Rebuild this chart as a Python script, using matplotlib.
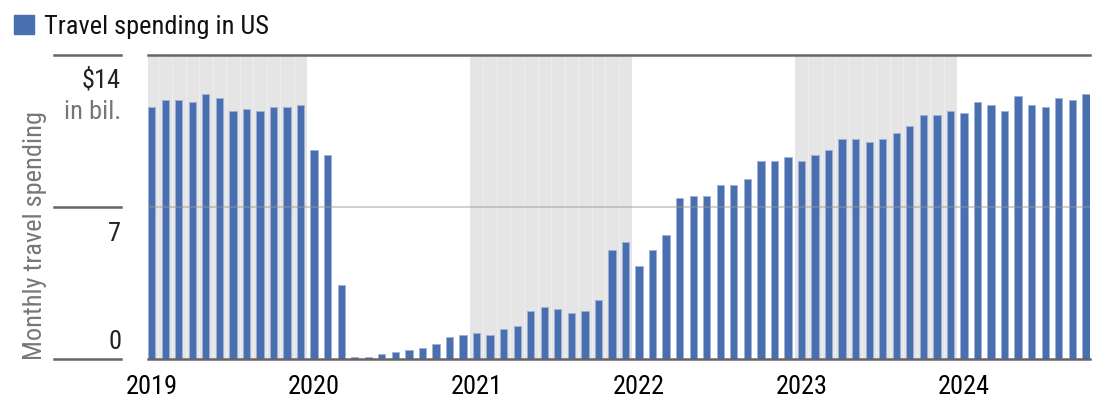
import matplotlib
matplotlib.use("Agg")
import matplotlib.pyplot as plt
import matplotlib.transforms as mtransforms
from matplotlib import font_manager
from matplotlib.lines import Line2D
import numpy as np

# pick a narrow font if there is one
names = set(f.name for f in font_manager.fontManager.ttflist)
font = "DejaVu Sans"
for cand in ["Roboto Condensed", "Liberation Sans Narrow", "Roboto", "Liberation Sans"]:
    if cand in names:
        font = cand
        break
plt.rcParams["font.family"] = [font, "DejaVu Sans"]

# monthly travel spending, Jan 2019 - Oct 2024, in $ bil.
spending = [
    11.62, 11.91, 11.91, 11.82, 12.22, 12.02, 11.42, 11.52, 11.42, 11.62, 11.62, 11.72,  # 2019
    9.61, 9.41, 3.41, 0.09, 0.09, 0.21, 0.31, 0.41, 0.51, 0.71, 1.00, 1.11,  # 2020
    1.20, 1.11, 1.40, 1.50, 2.19, 2.39, 2.30, 2.10, 2.19, 2.70, 5.00, 5.40,  # 2021
    4.30, 5.00, 5.70, 7.40, 7.51, 7.51, 8.01, 8.01, 8.31, 9.10, 9.10, 9.30,  # 2022
    9.10, 9.41, 9.61, 10.12, 10.12, 10.01, 10.12, 10.41, 10.72, 11.22, 11.22, 11.42,  # 2023
    11.32, 11.82, 11.72, 11.42, 12.11, 11.72, 11.62, 12.02, 11.91, 12.22,  # 2024
]
years = [2019, 2020, 2021, 2022, 2023, 2024]
shaded_years = [2019, 2021, 2023]
y_ticks = [0, 7, 14]

bar_color = "#4a6fb0"
dark_line = "#666666"
text_gray = "#777777"

x = np.arange(len(spending))
bw = 0.54

fig = plt.figure(figsize=(11.08, 4.14), dpi=100)
ax = fig.add_axes([148 / 1108, 54 / 414, (1089.5 - 148) / 1108, 304 / 414])

# shaded year bands
for yr in shaded_years:
    i0 = (yr - years[0]) * 12
    ax.axvspan(max(i0 - 0.5, -bw / 2), i0 + 11.5, color="#e5e5e5", lw=0, zorder=0)
    for k in range(i0, i0 + 11):
        ax.axvline(k + 0.5, color="white", lw=0.8, alpha=0.35, zorder=0.5)

ax.bar(x, spending, width=bw, color=bar_color, edgecolor="#9fb3da", linewidth=0.6, zorder=2)

ax.set_xlim(-bw / 2, len(spending) - 1 + bw / 2)
ax.set_ylim(0, 14)

# grid / frame lines
ax.axhline(7, color="#999999", lw=1.5, alpha=0.45, zorder=3)
ax.axhline(14, color=dark_line, lw=1.8, zorder=3, clip_on=False)
ax.axhline(0, color=dark_line, lw=1.8, zorder=3, clip_on=False)
for s in ax.spines.values():
    s.set_visible(False)
ax.set_yticks([])

# year labels
ax.set_xticks([(yr - years[0]) * 12 for yr in years])
ax.set_xticklabels([str(yr) for yr in years], fontsize=19)
ax.tick_params(axis="x", length=0, pad=11)

# left-hand value scale
trans = mtransforms.blended_transform_factory(fig.transFigure, ax.transData)
for v in y_ticks:
    fig.add_artist(Line2D([54 / 1108, 121 / 1108], [v, v], transform=trans,
                          color=dark_line, lw=1.8))
xl = 121 / 1108
ax.annotate("$14", (xl, 14), xycoords=trans, xytext=(0, -9), textcoords="offset points",
            ha="right", va="top", fontsize=19, color="#222222", annotation_clip=False)
ax.annotate("in bil.", (xl, 14), xycoords=trans, xytext=(0, -32), textcoords="offset points",
            ha="right", va="top", fontsize=19, color=text_gray, annotation_clip=False)
ax.annotate("7", (xl, 7), xycoords=trans, xytext=(0, -10), textcoords="offset points",
            ha="right", va="top", fontsize=19, color="#222222", annotation_clip=False)
ax.annotate("0", (xl, 0), xycoords=trans, xytext=(0, 4), textcoords="offset points",
            ha="right", va="bottom", fontsize=19, color="#222222", annotation_clip=False)

fig.text(35 / 1108, 1 - 360 / 414, "Monthly travel spending", rotation=90,
         ha="center", va="bottom", fontsize=19, color=text_gray)

# legend
fig.patches.append(plt.Rectangle((14 / 1108, 1 - 35 / 414), 20 / 1108, 19 / 414,
                                 transform=fig.transFigure, color=bar_color))
fig.text(44 / 1108, 1 - 27 / 414, "Travel spending in US", ha="left", va="center",
         fontsize=19, color="#111111")

fig.savefig("out.png", dpi=100)
